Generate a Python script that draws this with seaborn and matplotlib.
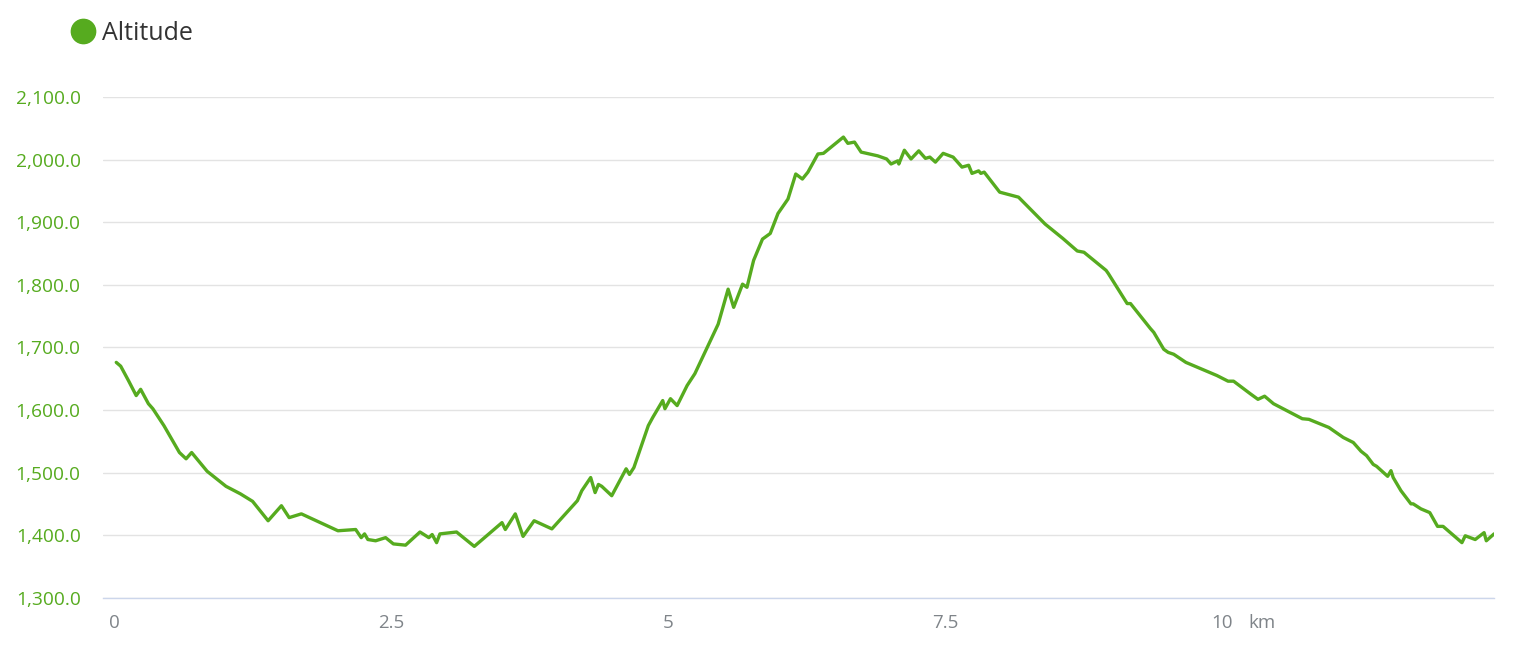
import numpy as np
import pandas as pd
import matplotlib
matplotlib.use("Agg")
import matplotlib.pyplot as plt
import matplotlib.transforms as mtransforms
from matplotlib.lines import Line2D
import seaborn as sns

# distance along the track (km) and altitude (m)
distance_km = [
    0.02, 0.06, 0.13, 0.20, 0.24, 0.31, 0.35, 0.45, 0.59, 0.65, 0.70, 0.84,
    1.01, 1.14, 1.25, 1.39, 1.51, 1.58, 1.69, 2.02, 2.18, 2.23, 2.26, 2.29,
    2.36, 2.45, 2.52, 2.63, 2.76, 2.84, 2.87, 2.91, 2.94, 3.09, 3.25, 3.50,
    3.53, 3.62, 3.69, 3.79, 3.95, 4.18, 4.22, 4.30, 4.34, 4.37, 4.40, 4.49,
    4.62, 4.65, 4.69, 4.82, 4.86, 4.95, 4.97, 5.02, 5.08, 5.17, 5.24, 5.45,
    5.54, 5.59, 5.67, 5.71, 5.77, 5.85, 5.92, 5.99, 6.08, 6.15, 6.21, 6.26,
    6.35, 6.40, 6.58, 6.62, 6.68, 6.74, 6.89, 6.97, 7.01, 7.07, 7.08, 7.13,
    7.19, 7.26, 7.32, 7.36, 7.41, 7.48, 7.57, 7.65, 7.71, 7.74, 7.80, 7.82,
    7.85, 7.99, 8.16, 8.40, 8.56, 8.69, 8.75, 8.95, 8.97, 9.14, 9.17, 9.35,
    9.38, 9.47, 9.51, 9.56, 9.67, 9.95, 10.05, 10.10, 10.25, 10.32, 10.38,
    10.46, 10.72, 10.78, 10.96, 11.09, 11.18, 11.25, 11.30, 11.36, 11.39,
    11.49, 11.52, 11.54, 11.61, 11.70, 11.72, 11.79, 11.87, 11.94, 11.99,
    12.16, 12.19, 12.28, 12.36, 12.38, 12.45,
]
altitude_m = [
    1676, 1670, 1647, 1623, 1633, 1610, 1602, 1575, 1532, 1522, 1532, 1502,
    1478, 1466, 1454, 1423, 1447, 1428, 1434, 1407, 1409, 1396, 1402, 1393,
    1391, 1396, 1386, 1384, 1405, 1396, 1401, 1388, 1402, 1405, 1382, 1420,
    1409, 1434, 1398, 1423, 1410, 1455, 1471, 1492, 1468, 1481, 1478, 1463,
    1506, 1497, 1508, 1575, 1588, 1615, 1602, 1618, 1607, 1639, 1658, 1737,
    1793, 1764, 1801, 1796, 1839, 1873, 1882, 1914, 1937, 1977, 1969, 1980,
    2009, 2010, 2036, 2026, 2028, 2012, 2006, 2001, 1993, 1998, 1993, 2015,
    2001, 2014, 2002, 2004, 1996, 2010, 2004, 1988, 1991, 1978, 1982, 1978,
    1980, 1948, 1940, 1897, 1874, 1854, 1852, 1823, 1818, 1770, 1770, 1730,
    1724, 1697, 1692, 1689, 1676, 1655, 1646, 1646, 1626, 1617, 1622,
    1610, 1586, 1585, 1572, 1556, 1548, 1534, 1527, 1513, 1510,
    1494, 1503, 1492, 1471, 1450, 1450, 1442, 1436, 1414, 1414,
    1388, 1399, 1393, 1404, 1391, 1402,
]
x_ticks = [0, 2.5, 5, 7.5, 10]
x_tick_labels = ["0", "2.5", "5", "7.5", "10"]
y_ticks = [1300, 1400, 1500, 1600, 1700, 1800, 1900, 2000, 2100]

df = pd.DataFrame({"distance": distance_km, "altitude": altitude_m})

green = "#56ab1f"
grey_text = "#7f8489"

sns.set_style("white")
plt.rcParams["font.family"] = ["Open Sans", "DejaVu Sans"]

fig = plt.figure(figsize=(15.23, 6.49), dpi=100)
ax = fig.add_axes([0.0676, 0.079, 0.9134, 0.7715])

sns.lineplot(data=df, x="distance", y="altitude", ax=ax, color=green,
             linewidth=2.4, legend=False)

ax.set_xlim(-0.1, 12.45)
ax.set_ylim(1300, 2100)
ax.set_xticks(x_ticks)
ax.set_xticklabels(x_tick_labels)
ax.set_yticks(y_ticks)
ax.set_yticklabels([f"{v:,.1f}" for v in y_ticks])
ax.set_xlabel("")
ax.set_ylabel("")

ax.grid(axis="y", color="#e3e3e3", linewidth=1.0)
ax.grid(axis="x", visible=False)
ax.set_axisbelow(True)
for side in ["top", "right", "left"]:
    ax.spines[side].set_visible(False)
ax.spines["bottom"].set_color("#ccd6eb")
ax.spines["bottom"].set_linewidth(1.0)

ax.tick_params(axis="y", length=0, pad=16, labelsize=13.8, labelcolor=green)
ax.tick_params(axis="x", length=0, pad=12, labelsize=13.5, labelcolor=grey_text)

# unit label sitting next to the last x tick
trans = mtransforms.blended_transform_factory(ax.transData, ax.transAxes)
km_offset = mtransforms.ScaledTranslation(0, -12 / 72, fig.dpi_scale_trans)
ax.text(10.23, 0, "km", transform=trans + km_offset, ha="left", va="top",
        fontsize=13.5, color=grey_text)

handle = Line2D([], [], linestyle="none", marker="o", markersize=17.5,
                markerfacecolor=green, markeredgecolor=green)
fig.legend([handle], ["Altitude"], loc="center left",
           bbox_to_anchor=(0.030, 0.948), frameon=False, fontsize=18,
           handletextpad=0.15, handlelength=1.2, labelcolor="#333333")

fig.savefig("out.png", dpi=100)
plt.close(fig)
